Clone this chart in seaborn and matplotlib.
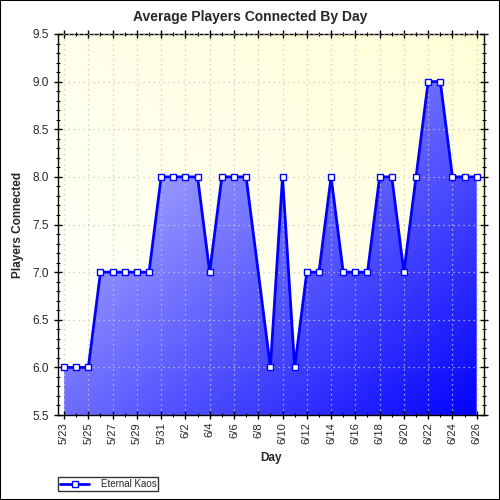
import numpy as np
import pandas as pd
import matplotlib
matplotlib.use("Agg")
import matplotlib.pyplot as plt
import matplotlib.dates as mdates
from matplotlib.patches import Polygon, Rectangle
import seaborn as sns

# data (no point for 6/8)
days = ["5/23", "5/24", "5/25", "5/26", "5/27", "5/28", "5/29", "5/30", "5/31",
        "6/1", "6/2", "6/3", "6/4", "6/5", "6/6", "6/7", "6/9", "6/10", "6/11",
        "6/12", "6/13", "6/14", "6/15", "6/16", "6/17", "6/18", "6/19", "6/20",
        "6/21", "6/22", "6/23", "6/24", "6/25", "6/26"]
players = [6.0, 6.0, 6.0, 7.0, 7.0, 7.0, 7.0, 7.0, 8.0,
           8.0, 8.0, 8.0, 7.0, 8.0, 8.0, 8.0, 6.0, 8.0, 6.0,
           7.0, 7.0, 8.0, 7.0, 7.0, 7.0, 8.0, 8.0, 7.0,
           8.0, 9.0, 9.0, 8.0, 8.0, 8.0]
tick_labels = ["5/23", "5/25", "5/27", "5/29", "5/31", "6/2", "6/4", "6/6", "6/8",
               "6/10", "6/12", "6/14", "6/16", "6/18", "6/20", "6/22", "6/24", "6/26"]
series_name = "Eternal Kaos"


def to_num(labels):
    return mdates.date2num(pd.to_datetime(["2008/" + d for d in labels], format="%Y/%m/%d"))


df = pd.DataFrame({"x": to_num(days), "y": players})

sns.set_style("ticks")
plt.rcParams["font.family"] = ["Arial", "Liberation Sans", "DejaVu Sans"]

fig = plt.figure(figsize=(5, 5), dpi=100)
ax = fig.add_axes([0.116, 0.17, 0.852, 0.762])

x0, x1 = df.x.min() - 0.5, df.x.max() + 0.6
y0, y1 = 5.5, 9.5
ax.set_xlim(x0, x1)
ax.set_ylim(y0, y1)

# background gradient (white -> pale yellow towards top right)
u, v = np.meshgrid(np.linspace(0, 1, 200), np.linspace(1, 0, 200))
t = (u + v) / 2
bg = np.dstack([np.ones_like(t), np.ones_like(t), 1 - 0.16 * t])
ax.imshow(bg, extent=[x0, x1, y0, y1], aspect="auto", zorder=0, interpolation="bilinear")

# filled area with diagonal blue gradient
t2 = (u + (1 - v)) / 2
lo = np.array([0.86, 0.86, 1.0])
hi = np.array([0.0, 0.0, 1.0])
grad = lo[None, None, :] * (1 - t2[..., None]) + hi[None, None, :] * t2[..., None]
im = ax.imshow(grad, extent=[x0, x1, y0, y1], aspect="auto", zorder=1, interpolation="bilinear")
verts = [(df.x.iloc[0], y0)] + list(zip(df.x, df.y)) + [(df.x.iloc[-1], y0)]
poly = Polygon(verts, closed=True, facecolor="none", edgecolor="none")
ax.add_patch(poly)
im.set_clip_path(poly)

ax.grid(True, which="major", color="#c8c8c8", linestyle=(0, (1, 3)), linewidth=0.9, zorder=0.5)
ax.set_axisbelow(False)

sns.lineplot(data=df, x="x", y="y", ax=ax, color="#0000ff", linewidth=2,
             marker="s", markersize=5, markerfacecolor="white",
             markeredgecolor="#0000ff", markeredgewidth=1, label=series_name,
             zorder=3)

ax.set_xticks(to_num(tick_labels))
ax.set_xticklabels(tick_labels, rotation=90, fontsize=8)
ax.set_xticks(np.arange(df.x.min(), df.x.max() + 1), minor=True)
ax.set_yticks(np.arange(5.5, 9.51, 0.5))
ax.set_yticklabels([f"{v:.1f}" for v in np.arange(5.5, 9.51, 0.5)], fontsize=8.5)
ax.set_yticks(np.arange(5.5, 9.51, 0.1), minor=True)
ax.tick_params(which="both", direction="inout", top=True, right=True, color="black")
ax.tick_params(which="major", length=6, width=1)
ax.tick_params(which="minor", length=3.5, width=0.8)
ax.tick_params(axis="x", which="major", pad=2)
for s in ax.spines.values():
    s.set_color("black")
    s.set_linewidth(1)

ax.set_xlabel("Day", fontsize=8.5, fontweight="bold", labelpad=6)
ax.set_ylabel("Players Connected", fontsize=8.5, fontweight="bold", labelpad=6)
fig.text(0.5, 0.966, "Average Players Connected By Day", fontsize=10, fontweight="bold",
         ha="center", va="center")

leg = ax.legend(loc="lower left", bbox_to_anchor=(0.116, 0.018), bbox_transform=fig.transFigure,
                fontsize=7, frameon=True, fancybox=False, edgecolor="black",
                handlelength=3, borderpad=0.2, handletextpad=1.2, borderaxespad=0)
leg.get_frame().set_linewidth(1)

fig.patches.append(Rectangle((0, 0), 1, 1, transform=fig.transFigure, fill=False,
                             edgecolor="black", linewidth=1.5))

fig.savefig("out.png", dpi=100)
